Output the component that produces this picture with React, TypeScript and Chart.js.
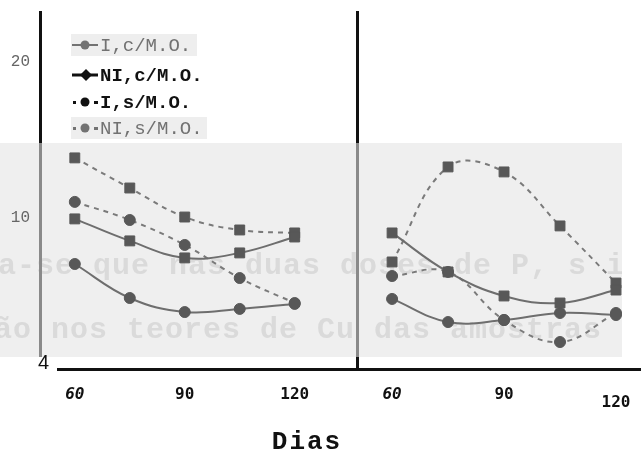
import React, { useEffect, useRef } from "react";
import { Chart, registerables } from "chart.js";

Chart.register(...registerables);

// ---- data ----
const days = [60, 75, 90, 105, 120];
const xTickValues = [60, 90, 120];
const seriesLabels = ["I,c/M.O.", "NI,c/M.O.", "I,s/M.O.", "NI,s/M.O."];

const leftIc = [9.94, 8.53, 7.44, 7.76, 8.78];
const leftNIc = [7.05, 4.87, 3.97, 4.17, 4.49];
const leftIs = [13.85, 11.92, 10.06, 9.23, 9.04];
const leftNIs = [11.03, 9.87, 8.27, 6.15, 4.55];

const rightIc = [9.04, 6.54, 5.0, 4.55, 5.38];
const rightNIc = [4.81, 3.33, 3.46, 3.91, 3.78];
const rightIs = [7.18, 13.27, 12.95, 9.49, 5.83];
const rightNIs = [6.28, 6.54, 3.46, 2.05, 3.91];

const yMin = 0.32;
const yMax = 23.2;
const yTickValues = [10, 20];
const yTickLabels = ["10", "20"];
const yBaseLabel = "4";
const axisTitle = "Dias";
const bleedLines = ["a-se que nas duas doses de P, s i", "ão nos teores de Cu das amostras (P"];

// ---- styles ----
const SCAN_TOP = 143;
const SCAN_BOTTOM = 357;

function makeDatasets(ic: number[], nic: number[], is: number[], nis: number[]) {
  const pts = (vals: number[]) => days.map((d, i) => ({ x: d, y: vals[i] }));
  const base = {
    borderColor: "#6e6e6e",
    borderWidth: 2,
    pointBackgroundColor: "#585858",
    pointBorderColor: "#585858",
    pointBorderWidth: 1,
    tension: 0.4,
  };
  return [
    { ...base, label: seriesLabels[0], data: pts(ic), pointStyle: "rect", pointRadius: 7 },
    { ...base, label: seriesLabels[1], data: pts(nic), pointStyle: "circle", pointRadius: 5.5 },
    { ...base, label: seriesLabels[2], data: pts(is), pointStyle: "rect", pointRadius: 7, borderDash: [5, 5], borderColor: "#7a7a7a" },
    { ...base, label: seriesLabels[3], data: pts(nis), pointStyle: "circle", pointRadius: 5.5, borderDash: [5, 5], borderColor: "#7a7a7a" },
  ];
}

function scanPlugin(offsetX: number, x0: number, x1: number) {
  return {
    id: "scanBackground",
    beforeDraw(chart: any) {
      const ctx = chart.ctx;
      ctx.save();
      ctx.fillStyle = "#efefef";
      ctx.fillRect(x0 - offsetX, SCAN_TOP, x1 - x0, SCAN_BOTTOM - SCAN_TOP);
      ctx.beginPath();
      ctx.rect(x0 - offsetX, SCAN_TOP, x1 - x0, SCAN_BOTTOM - SCAN_TOP);
      ctx.clip();
      ctx.fillStyle = "#dadada";
      ctx.font = 'bold 30px "Liberation Mono", monospace';
      try { (ctx as any).letterSpacing = "1px"; } catch (e) {}
      ctx.textBaseline = "middle";
      ctx.textAlign = "left";
      ctx.fillText(bleedLines[0], -2 - offsetX, 266);
      ctx.fillText(bleedLines[1], -6 - offsetX, 330);
      ctx.restore();
    },
  };
}

const legendPlugin = {
  id: "customLegend",
  afterDraw(chart: any) {
    const ctx = chart.ctx;
    const entries = [
      { y: 45, color: "#727272", bold: false, dash: false, marker: "circle", bgRight: 197 },
      { y: 75, color: "#111111", bold: true, dash: false, marker: "diamond", bgRight: 0 },
      { y: 102, color: "#111111", bold: true, dash: true, marker: "circle", bgRight: 0 },
      { y: 128, color: "#727272", bold: false, dash: true, marker: "circle", bgRight: 207 },
    ];
    ctx.save();
    entries.forEach((e, i) => {
      const label = chart.data.datasets[i].label;
      if (e.bgRight) {
        ctx.fillStyle = "#eeeeee";
        ctx.fillRect(71, e.y - 11, e.bgRight - 71, 22);
      }
      ctx.fillStyle = e.color;
      ctx.strokeStyle = e.color;
      if (!e.dash) {
        ctx.lineWidth = e.bold ? 3 : 2;
        ctx.beginPath();
        ctx.moveTo(72, e.y);
        ctx.lineTo(98, e.y);
        ctx.stroke();
      } else {
        ctx.fillRect(73, e.y - 1, 3, 3);
        ctx.fillRect(94, e.y - 1, 4, 3);
      }
      ctx.beginPath();
      if (e.marker === "diamond") {
        ctx.moveTo(86, e.y - 6);
        ctx.lineTo(92, e.y);
        ctx.lineTo(86, e.y + 6);
        ctx.lineTo(80, e.y);
        ctx.closePath();
      } else {
        ctx.arc(85, e.y, 4.5, 0, Math.PI * 2);
      }
      ctx.fill();
      ctx.font = (e.bold ? "bold " : "") + '19px "Liberation Mono", "Courier New", monospace';
      ctx.textBaseline = "middle";
      ctx.textAlign = "left";
      ctx.fillText(label, 100, e.y + 1);
    });
    ctx.restore();
  },
};

function axisGradient(canvas: HTMLCanvasElement, bottomColor: string) {
  const g = canvas.getContext("2d")!.createLinearGradient(0, 0, 0, 454);
  g.addColorStop(0, "#111111");
  g.addColorStop(SCAN_TOP / 454 - 0.0001, "#111111");
  g.addColorStop(SCAN_TOP / 454, "#8a8a8a");
  g.addColorStop(SCAN_BOTTOM / 454 - 0.0001, "#8a8a8a");
  g.addColorStop(SCAN_BOTTOM / 454, bottomColor);
  g.addColorStop(1, bottomColor);
  return g;
}

function baseGradient(canvas: HTMLCanvasElement, startX: number, width: number) {
  const g = canvas.getContext("2d")!.createLinearGradient(0, 0, width, 0);
  g.addColorStop(0, "rgba(0,0,0,0)");
  g.addColorStop(startX / width - 0.0001, "rgba(0,0,0,0)");
  g.addColorStop(startX / width, "#111111");
  g.addColorStop(1, "#111111");
  return g;
}

const xTickFont = (c: any) => ({
  family: '"DejaVu Sans Mono", monospace',
  size: 16,
  weight: "bold" as const,
  style: (c.index === 0 ? "italic" : "normal") as any,
});

const noPad = (s: any) => {
  s.paddingTop = 0;
  s.paddingBottom = 0;
  s.paddingLeft = 0;
  s.paddingRight = 0;
};

export default function App() {
  const leftRef = useRef<HTMLCanvasElement>(null);
  const rightRef = useRef<HTMLCanvasElement>(null);

  useEffect(() => {
    document.body.style.margin = "0";
    const lc = leftRef.current!;
    const rc = rightRef.current!;

    const left = new Chart(lc, {
      type: "line",
      data: { datasets: makeDatasets(leftIc, leftNIc, leftIs, leftNIs) as any },
      options: {
        responsive: false,
        animation: false,
        layout: { autoPadding: false, padding: { top: 12, left: 0, right: 0, bottom: 0 } },
        plugins: { legend: { display: false }, tooltip: { enabled: false } },
        scales: {
          x: {
            type: "linear",
            min: 50.5,
            max: 137,
            afterBuildTicks: (s: any) => { s.ticks = xTickValues.map((v) => ({ value: v })); },
            afterFit: (s: any) => { s.height = 85; noPad(s); },
            grid: { display: false, drawTicks: false },
            border: { color: baseGradient(lc, 57, 357) as any, width: 3 },
            ticks: { padding: 16, color: "#111", font: xTickFont as any, callback: (v: any) => String(v), autoSkip: false, maxRotation: 0 },
          },
          y: {
            type: "linear",
            position: "left",
            weight: 1,
            min: yMin,
            max: yMax,
            afterBuildTicks: (s: any) => { s.ticks = yTickValues.map((v) => ({ value: v })); },
            afterFit: (s: any) => { s.width = 40; noPad(s); },
            grid: { display: false, drawTicks: false },
            border: { color: axisGradient(lc, "rgba(0,0,0,0)") as any, width: 3 },
            ticks: {
              padding: 10,
              autoSkip: false,
              callback: (_v: any, i: number) => yTickLabels[i],
              color: "#666",
              font: { family: '"Liberation Mono", "Courier New", monospace', size: 16 },
            },
          },
          yBase: {
            type: "linear",
            position: "left",
            weight: 0,
            min: yMin,
            max: yMax,
            afterBuildTicks: (s: any) => { s.ticks = [{ value: yMin }]; },
            afterFit: (s: any) => { s.width = 0; noPad(s); },
            grid: { display: false, drawTicks: false },
            border: { display: false },
            ticks: {
              mirror: true,
              padding: -2,
              labelOffset: -6,
              autoSkip: false,
              callback: () => yBaseLabel,
              color: "#111",
              font: { family: '"Liberation Sans", Arial, sans-serif', size: 20 },
            },
          },
        },
      },
      plugins: [scanPlugin(0, 0, 357), legendPlugin],
    });

    const right = new Chart(rc, {
      type: "line",
      data: { datasets: makeDatasets(rightIc, rightNIc, rightIs, rightNIs) as any },
      options: {
        responsive: false,
        animation: false,
        layout: { autoPadding: false, padding: { top: 12, left: 0, right: 0, bottom: 0 } },
        plugins: { legend: { display: false }, tooltip: { enabled: false } },
        scales: {
          x: {
            type: "linear",
            min: 50.6,
            max: 126.7,
            afterBuildTicks: (s: any) => { s.ticks = xTickValues.map((v) => ({ value: v })); },
            afterFit: (s: any) => { s.height = 85; noPad(s); },
            grid: { display: false, drawTicks: false },
            border: { color: "#111", width: 3 },
            ticks: {
              padding: 16,
              color: "#111",
              autoSkip: false,
              maxRotation: 0,
              callback: (v: any) => String(v),
              font: ((c: any) => ({ ...xTickFont(c), lineHeight: c.index === 2 ? 2.2 : 1.2 })) as any,
            },
          },
          y: {
            type: "linear",
            min: yMin,
            max: yMax,
            afterFit: (s: any) => { s.width = 17; noPad(s); },
            grid: { display: false, drawTicks: false },
            border: { color: axisGradient(rc, "#111111") as any, width: 3 },
            ticks: { display: false },
          },
        },
      },
      plugins: [scanPlugin(340, 357, 622)],
    });

    return () => {
      left.destroy();
      right.destroy();
    };
  }, []);

  return (
    <div style={{ position: "relative", width: 641, height: 454, background: "#fff", overflow: "hidden" }}>
      <canvas ref={leftRef} width={357} height={454} style={{ position: "absolute", left: 0, top: 0, width: 357, height: 454 }} />
      <canvas ref={rightRef} width={301} height={454} style={{ position: "absolute", left: 340, top: 0, width: 301, height: 454 }} />
      <div
        style={{
          position: "absolute",
          left: 207,
          top: 427,
          width: 200,
          textAlign: "center",
          font: 'bold 26px "Liberation Mono", "Courier New", monospace',
          letterSpacing: "2px",
          lineHeight: "30px",
          color: "#111",
        }}
      >
        {axisTitle}
      </div>
    </div>
  );
}
